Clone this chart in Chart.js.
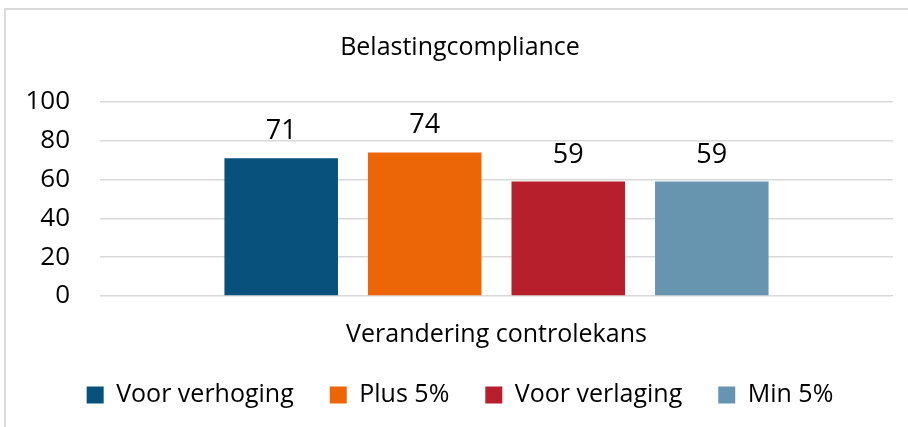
<!DOCTYPE html>
<html>
<head>
<meta charset="utf-8">
<script src="https://cdn.jsdelivr.net/npm/chart.js@4/dist/chart.umd.min.js"></script>
<style>
  html, body { margin: 0; padding: 0; background: #fff; }
  #wrap { position: relative; width: 908px; height: 427px; overflow: hidden; }
  #frame { position: absolute; left: 4px; top: 8px; width: 920px; height: 440px;
           border-top: 2px solid #dadada; border-left: 2px solid #dadada; }
  canvas { position: absolute; left: 0; top: 0; }
</style>
</head>
<body>
<div id="wrap">
  <div id="frame"></div>
  <canvas id="compliance_Chart" width="908" height="427"></canvas>
</div>
<script>
// gegevens uit de grafiek
const categories = ['Verandering controlekans'];
const seriesNames = ['Voor verhoging', 'Plus 5%', 'Voor verlaging', 'Min 5%'];
const seriesValues = [71, 74, 59, 59];
const seriesColors = ['#08517c', '#ec6608', '#b81f2d', '#6795b0'];
const yTicks = [0, 20, 40, 60, 80, 100];

const FONT = "'Open Sans', sans-serif";

// waarden boven de staven
const valueLabels = {
  id: 'valueLabels',
  afterDatasetsDraw(chart) {
    const ctx = chart.ctx;
    ctx.save();
    ctx.font = '27px ' + FONT;
    ctx.fillStyle = '#000';
    ctx.textAlign = 'center';
    ctx.textBaseline = 'alphabetic';
    chart.data.datasets.forEach(function(ds, i) {
      chart.getDatasetMeta(i).data.forEach(function(bar, j) {
        ctx.fillText(ds.data[j], bar.x, bar.y - 19);
      });
    });
    ctx.restore();
  }
};

const context = document.getElementById('compliance_Chart').getContext('2d');
const compliance_Chart = new Chart(context, {
  type: 'bar',
  data: {
    labels: categories,
    datasets: seriesNames.map(function(name, i) {
      return {
        label: name,
        data: [seriesValues[i]],
        backgroundColor: seriesColors[i],
        borderWidth: 0,
        categoryPercentage: 0.724,
        barPercentage: 0.791
      };
    })
  },
  options: {
    responsive: false,
    animation: false,
    layout: { padding: { left: 27, right: 15, top: 0, bottom: 9.5 } },
    plugins: {
      title: {
        display: true,
        text: 'Belastingcompliance',
        color: '#000',
        font: { family: FONT, size: 25, weight: 'normal' },
        padding: { top: 33, bottom: 39 }
      },
      legend: {
        position: 'bottom',
        labels: {
          color: '#000',
          font: { family: FONT, size: 25 },
          boxWidth: 17,
          boxHeight: 17,
          padding: 36
        }
      },
      tooltip: { enabled: false }
    },
    scales: {
      x: {
        grid: { display: false, drawTicks: false },
        border: { display: false },
        ticks: { display: false },
        // categorienaam onder de as (niet geklipt)
        title: {
          display: true,
          text: categories[0],
          color: '#000',
          font: { family: FONT, size: 25 },
          padding: { top: 24, bottom: -3.5 }
        }
      },
      y: {
        min: 0,
        max: 100,
        afterFit: function(scale) { scale.width = 73; },
        afterBuildTicks: function(scale) { scale.ticks = yTicks.map(function(v) { return { value: v }; }); },
        grid: { color: '#d9d9d9', lineWidth: 1.5, drawTicks: false },
        border: { display: false },
        ticks: { color: '#000', font: { family: FONT, size: 26 }, padding: 30 }
      }
    }
  },
  plugins: [valueLabels]
});
</script>
</body>
</html>
